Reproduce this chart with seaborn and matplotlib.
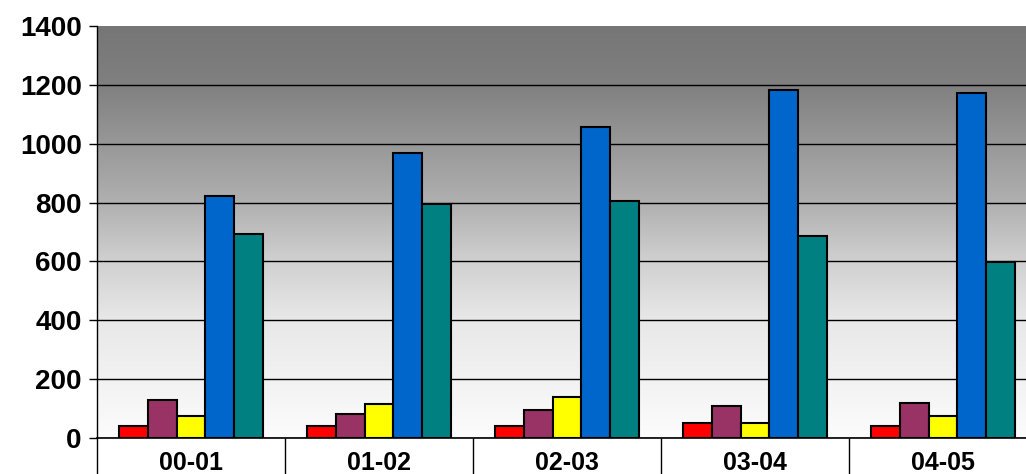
import numpy as np
import pandas as pd
import matplotlib
matplotlib.use("Agg")
import matplotlib.pyplot as plt
from matplotlib.colors import LinearSegmentedColormap
import seaborn as sns

# data
years = ["00-01", "01-02", "02-03", "03-04", "04-05"]
series = ["A", "B", "C", "D", "E"]
vals_a = [41, 41, 41, 51, 41]
vals_b = [129, 82, 95, 109, 119]
vals_c = [76, 116, 140, 51, 75]
vals_d = [824, 968, 1058, 1182, 1172]
vals_e = [693, 795, 805, 686, 598]
colors = ["#FF0000", "#993366", "#FFFF00", "#0066CC", "#008080"]

rows = []
for s, vals in zip(series, [vals_a, vals_b, vals_c, vals_d, vals_e]):
    for y, v in zip(years, vals):
        rows.append({"year": y, "series": s, "value": v})
df = pd.DataFrame(rows)

sns.set_style("white")
plt.rcParams["font.family"] = ["Liberation Sans", "DejaVu Sans"]
plt.rcParams["text.color"] = "black"
plt.rcParams["xtick.color"] = "black"
plt.rcParams["ytick.color"] = "black"

fig = plt.figure(figsize=(10.26, 4.74), dpi=100)
ax = fig.add_axes([97 / 1026, 1 - 438 / 474, 940 / 1026, 412 / 474])

# gray-to-white background gradient
grad = np.linspace(0, 1, 256).reshape(-1, 1)
cmap = LinearSegmentedColormap.from_list(
    "bg", [(0, "#fcfcfc"), (0.286, "#e8e8e8"), (0.43, "#d0d0d0"),
           (0.571, "#b0b0b0"), (0.857, "#808080"), (1, "#767676")])
ax.imshow(grad, extent=[0, 1, 0, 1], transform=ax.transAxes, origin="lower",
          aspect="auto", cmap=cmap, zorder=0)

sns.barplot(data=df, x="year", y="value", hue="series", order=years, hue_order=series,
            palette=colors, saturation=1, width=0.77, gap=0, edgecolor="black",
            linewidth=1.5, legend=False, ax=ax, zorder=3)

ax.set_xlim(-0.5, len(years) - 0.5)
ax.set_ylim(0, 1400)
ax.set_yticks(range(0, 1401, 200))
ax.yaxis.grid(True, color="black", linewidth=1.0)
ax.set_axisbelow(True)
for gl in ax.get_ygridlines():
    gl.set_zorder(1)
ax.get_ygridlines()[-1].set_visible(False)

# category boundaries as long ticks, labels at centers
ax.set_xticks(np.arange(-0.5, len(years), 1.0))
ax.set_xticklabels([])
ax.set_xticks(np.arange(len(years)), minor=True)
ax.set_xticklabels(years, minor=True, fontsize=18, fontweight="bold", color="black")
ax.tick_params(axis="x", which="major", bottom=True, length=27, width=1,
               color="black", direction="out")
ax.tick_params(axis="x", which="minor", bottom=True, length=0, pad=9)
ax.tick_params(axis="y", left=True, length=6, width=1, color="black", direction="out",
               pad=5, labelsize=20, labelcolor="black")
for lab in ax.get_yticklabels():
    lab.set_fontweight("bold")

ax.set_xlabel("")
ax.set_ylabel("")
for side in ["top", "right"]:
    ax.spines[side].set_visible(False)
ax.spines["left"].set_color("black")
ax.spines["bottom"].set_color("black")
ax.spines["left"].set_linewidth(1)
ax.spines["bottom"].set_linewidth(1.2)

fig.savefig("out.png", dpi=100)
